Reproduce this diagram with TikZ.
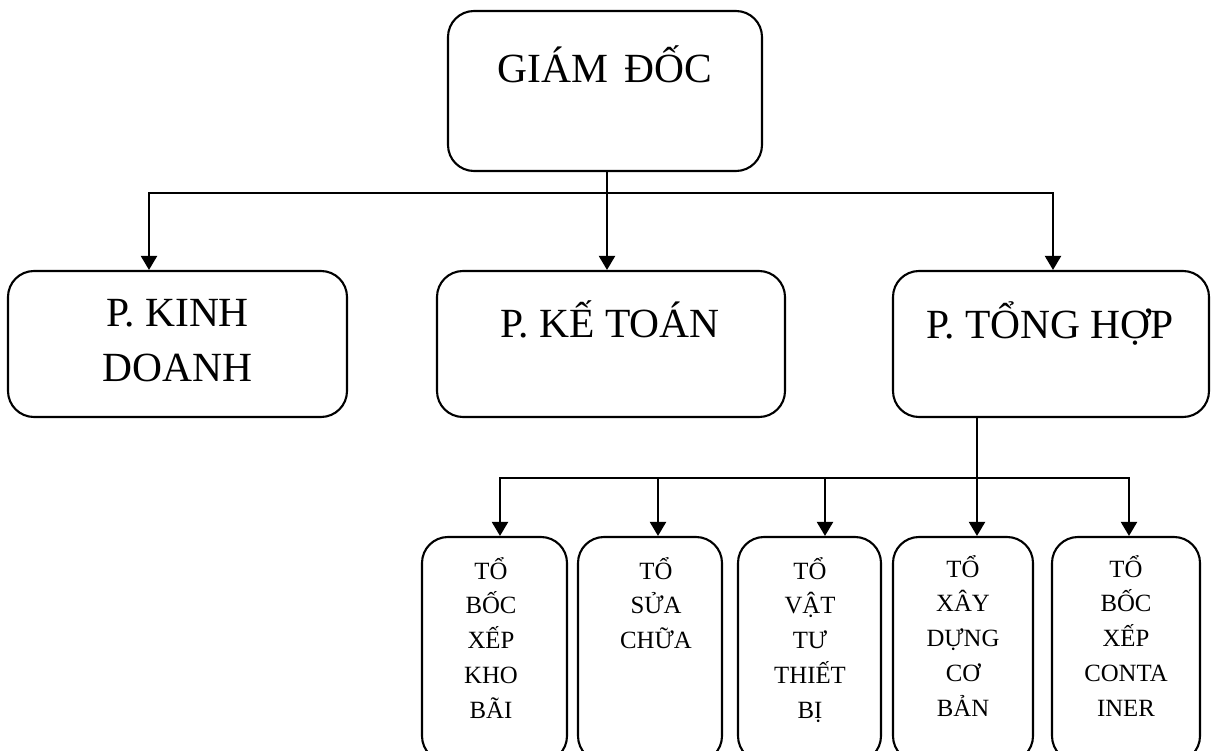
\documentclass[tikz,border=0pt]{standalone}
\usepackage{fontspec}
\setmainfont{Liberation Serif}
\usetikzlibrary{arrows.meta}

\begin{document}
\begin{tikzpicture}[x=1pt,y=-1pt,
  box/.style={draw=black, line width=2.1pt, rounded corners=26pt, inner sep=0pt},
  bigtext/.style={inner sep=0pt, anchor=base, font=\fontsize{41.5}{55}\selectfont},
  smalltext/.style={inner sep=0pt, anchor=base, font=\fontsize{24.8}{34.8}\selectfont},
  arr/.style={line width=2.1pt, -{Triangle[width=16pt,length=14pt]}},
  arrboth/.style={line width=2.1pt, {Triangle[width=16pt,length=14pt]}-{Triangle[width=16pt,length=14pt]}}
]
\clip (0,0) rectangle (1211,751);

% top level
\node[box, minimum width=314pt, minimum height=160pt] (gd) at (605,91) {};
\node[bigtext] (gdt) at (605,83) {GIÁM\hspace{0.4em}ĐỐC};

% departments
\node[box, minimum width=339pt, minimum height=146pt] (kd) at (177.5,344) {};
\node[bigtext] (kdt) at (177.5,327) {\begin{tabular}[t]{@{}c@{}}P. KINH\\DOANH\end{tabular}};

\node[box, minimum width=348pt, minimum height=146pt] (kt) at (611,344) {};
\node[bigtext] (ktt) at (610,338) {P. KẾ TOÁN};

\node[box, minimum width=316pt, minimum height=146pt] (th) at (1051,344) {};
\node[bigtext] (tht) at (1050,339) {P. TỔNG HỢP};

% teams under P. TONG HOP
\node[box, minimum width=145pt, minimum height=225pt] (t1) at (494.5,649.5) {};
\node[box, minimum width=144pt, minimum height=225pt] (t2) at (650,649.5) {};
\node[box, minimum width=143pt, minimum height=225pt] (t3) at (809.5,649.5) {};
\node[box, minimum width=140pt, minimum height=225pt] (t4) at (963,649.5) {};
\node[box, minimum width=148pt, minimum height=225pt] (t5) at (1126,649.5) {};

\node[smalltext] (t1t) at (491,579) {\begin{tabular}[t]{@{}c@{}}TỔ\\BỐC\\XẾP\\KHO\\BÃI\end{tabular}};
\node[smalltext] (t2t) at (656,579) {\begin{tabular}[t]{@{}c@{}}TỔ\\SỬA\\CHỮA\end{tabular}};
\node[smalltext] (t3t) at (810,579) {\begin{tabular}[t]{@{}c@{}}TỔ\\VẬT\\TƯ\\THIẾT\\BỊ\end{tabular}};
\node[smalltext] (t4t) at (963,577) {\begin{tabular}[t]{@{}c@{}}TỔ\\XÂY\\DỰNG\\CƠ\\BẢN\end{tabular}};
\node[smalltext] (t5t) at (1126,577) {\begin{tabular}[t]{@{}c@{}}TỔ\\BỐC\\XẾP\\CONTA\\INER\end{tabular}};

% connectors from the director
\coordinate (j0) at (607,193);
\coordinate (jl) at (149,193);
\coordinate (jr) at (1053,193);
\draw[arr] (gd.south -| j0) -- (j0 |- kt.north);
\draw[arrboth] (jl |- kd.north) -- (jl) -- (jr) -- (jr |- th.north);

% connectors from P. TONG HOP
\coordinate (s) at (977,478);
\coordinate (b1) at (500,478);
\coordinate (b2) at (658,478);
\coordinate (b3) at (825,478);
\coordinate (b5) at (1129,478);
\draw[arr] (th.south -| s) -- (s |- t4.north);
\draw[arrboth] (b1 |- t1.north) -- (b1) -- (b5) -- (b5 |- t5.north);
\draw[arr] (b2) -- (b2 |- t2.north);
\draw[arr] (b3) -- (b3 |- t3.north);
\end{tikzpicture}
\end{document}
